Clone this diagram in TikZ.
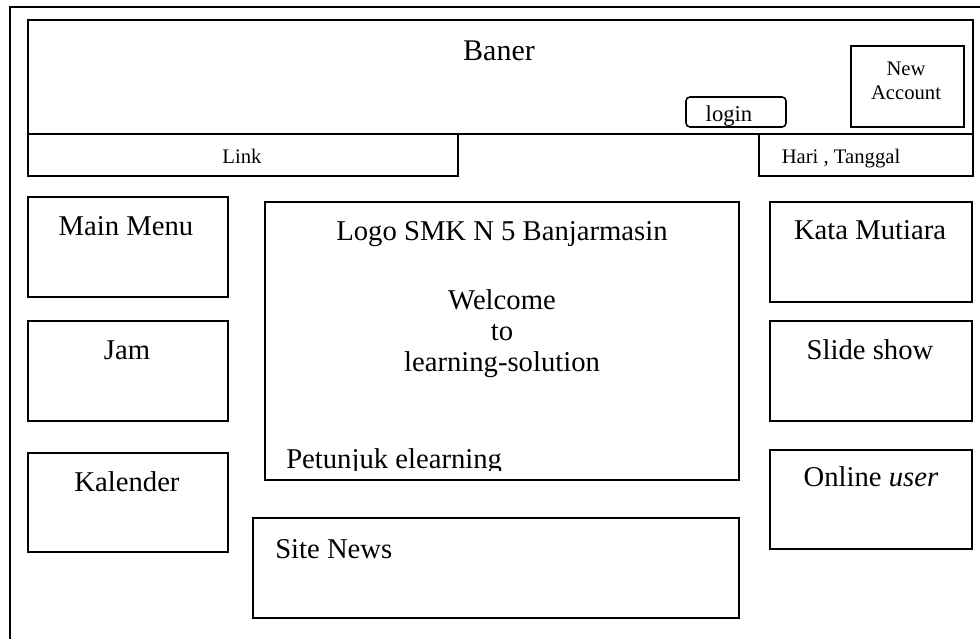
\documentclass[tikz,border=0pt]{standalone}
\usepackage{fontspec}
\setmainfont{Liberation Serif}
\newcommand\wbox[6][]{\node[wb,#1,minimum width={(#5-#3)*0.75pt},minimum height={(#6-#4)*0.75pt}] (#2) at ({(#3+#5)/2},{(#4+#6)/2}) {};}
\begin{document}
\begin{tikzpicture}[x=0.75pt,y=-0.75pt,
  wb/.style={draw,line width=1.2pt,inner sep=0pt,outer sep=0pt},
  big/.style={font=\fontsize{21.5}{26}\selectfont,anchor=base,inner sep=0pt},
  small/.style={font=\fontsize{15.5}{19}\selectfont,anchor=base,inner sep=0pt}]
\useasboundingbox (0,0) rectangle (980,638);
% outer frame (runs off the page right and bottom)
\coordinate (o1) at (10,640);
\coordinate (o2) at (10,7);
\coordinate (o3) at (982,7);
\draw[line width=1.2pt] (o1) -- (o2) -- (o3);
% boxes
\wbox{banner}{28}{20}{973}{134}
\wbox{link}{28}{134}{458}{176}
\wbox{hari}{759}{134}{973}{176}
\wbox[rounded corners=3pt]{login}{686}{97}{786}{127}
\wbox{newacc}{851}{46}{964}{127}
\wbox{mainmenu}{28}{197}{228}{297}
\wbox{jam}{28}{321}{228}{421}
\wbox{kalender}{28}{453}{228}{552}
\wbox{center}{265}{202}{739}{480}
\wbox{site}{253}{518}{739}{618}
\wbox{kata}{770}{202}{972}{302}
\wbox{slide}{770}{321}{972}{421}
\wbox{online}{770}{450}{972}{549}
% texts
\node[big,font=\fontsize{22.5}{27}\selectfont] (tbaner) at (499,61) {Baner};
\node[small] (tnew) at (906,76) {New};
\node[small] (tacc) at (906,100) {Account};
\node[small,font=\fontsize{17}{20}\selectfont] (tlogin) at (729,122) {login};
\node[small] (tlink) at (242,163) {Link};
\node[small] (thari) at (841,163) {Hari , Tanggal};
\node[big] (tmain) at (126,235) {Main Menu};
\node[big] (tjam) at (127,359) {Jam};
\node[big] (tkal) at (127,491) {Kalender};
\node[big] (tkata) at (870,239) {Kata Mutiara};
\node[big] (tslide) at (870,359) {Slide show};
\node[big] (tonline) at (871,486) {Online \textit{user}};
\node[big] (tlogo) at (502,240) {Logo SMK N 5 Banjarmasin};
\node[big] (twel) at (502,309) {Welcome};
\node[big] (tto) at (502,340) {to};
\node[big] (tls) at (502,371) {learning-solution};
\begin{scope}
\clip (266,430) rectangle (738,470);
\node[big,anchor=base west] (tpet) at (286,468) {Petunjuk elearning};
\end{scope}
\node[big,anchor=base west] (tsite) at (275,558) {Site News};
\end{tikzpicture}
\end{document}
